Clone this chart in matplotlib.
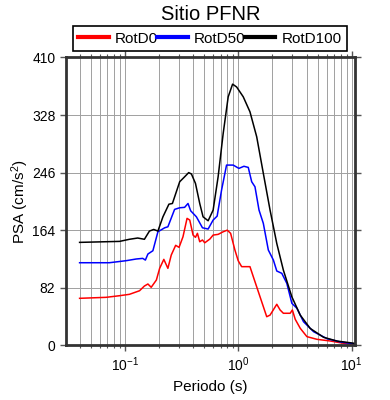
import matplotlib
matplotlib.use("Agg")
import matplotlib.pyplot as plt
from matplotlib.ticker import LogLocator, NullFormatter, FixedLocator

plt.rcParams['font.family'] = ['Liberation Sans', 'DejaVu Sans']
plt.rcParams['mathtext.fontset'] = 'custom'
plt.rcParams['mathtext.rm'] = 'Liberation Sans'
plt.rcParams['mathtext.it'] = 'Liberation Sans:italic'

# valores (periodo en s, PSA en cm/s2)
t_rotd100 = [0.04, 0.09, 0.11, 0.13, 0.149, 0.165, 0.18, 0.196, 0.217, 0.245, 0.263,
             0.305, 0.337, 0.366, 0.387, 0.42, 0.458, 0.49, 0.543, 0.601, 0.665, 0.737,
             0.816, 0.892, 0.968, 1.107, 1.269, 1.455, 1.664, 1.908, 2.187, 2.50, 2.97,
             3.52, 4.31, 5.65, 7.43, 10.6]
psa_rotd100 = [146.6, 148, 151, 152.8, 151, 162.7, 165, 162.7, 183, 201, 202,
               233, 240, 246, 244, 230.6, 202, 183, 177.4, 192.6, 240, 301.8,
               354, 372, 368, 354, 332.6, 297, 245, 192.6, 145, 107, 69,
               43, 24, 11.4, 6, 2.8]

t_rotd50 = [0.04, 0.0732, 0.1028, 0.126, 0.144, 0.152, 0.16, 0.177, 0.196, 0.225, 0.24,
            0.275, 0.305, 0.337, 0.361, 0.381, 0.428, 0.484, 0.543, 0.601, 0.652, 0.713,
            0.789, 0.903, 1.014, 1.123, 1.226, 1.314, 1.405, 1.525, 1.664, 1.842, 2.041,
            2.187, 2.421, 2.68, 2.97, 3.29, 3.76, 4.61, 6.06, 7.94, 10.6]
psa_rotd50 = [117.6, 117.6, 120.5, 122.9, 123.8, 121.4, 130, 134.7, 161.7, 167.4, 168.8,
              193.6, 195.9, 196.5, 202, 191.6, 183, 167.4, 165.6, 178.4, 184, 221,
              256.7, 256.7, 252, 255, 253.4, 233, 225.8, 192.6, 173.7, 135.7, 121.4,
              105.8, 102.5, 88.3, 59.8, 52.7, 33.6, 19.4, 9.4, 4.7, 1.9]

t_rotd0 = [0.04, 0.0684, 0.0898, 0.11, 0.135, 0.149, 0.16, 0.171, 0.19, 0.203, 0.221,
           0.24, 0.257, 0.281, 0.301, 0.326, 0.354, 0.374, 0.40, 0.42, 0.437, 0.458,
           0.484, 0.507, 0.562, 0.601, 0.665, 0.737, 0.80, 0.857, 0.935, 1.0, 1.072,
           1.269, 1.358, 1.556, 1.783, 1.908, 2.187, 2.339, 2.50, 2.87, 3.0, 3.18,
           3.52, 4.03, 4.94, 6.48, 8.50, 10.6]
psa_rotd0 = [66.9, 68.3, 70.6, 72.6, 77.7, 84.4, 87.3, 82.6, 93, 109.6, 122.4,
             109.6, 128.6, 142.4, 139.5, 154.6, 180.8, 178.4, 157, 153.8, 159.5, 147.5,
             150, 146, 151.3, 157, 158, 161.7, 164, 159.5, 135.7, 120.4, 112,
             112, 97.7, 69.2, 40.7, 43, 58.4, 50.3, 45.6, 45.6, 50.3, 37,
             24.2, 12.3, 8.5, 6.1, 2.8, 0.9]

y_ticks = [0, 82, 164, 246, 328, 410]

fig = plt.figure(figsize=(3.9, 4.0), dpi=100)
ax = fig.add_axes([0.169, 0.1368, 0.7425, 0.7195])

ax.plot(t_rotd0, psa_rotd0, color='red', lw=1.1, label='RotD0')
ax.plot(t_rotd50, psa_rotd50, color='blue', lw=1.1, label='RotD50')
ax.plot(t_rotd100, psa_rotd100, color='black', lw=1.1, label='RotD100')

ax.set_xscale('log')
ax.set_xlim(0.0303, 10.8)
ax.set_ylim(0, 410)
ax.yaxis.set_major_locator(FixedLocator(y_ticks))
ax.xaxis.set_minor_locator(LogLocator(base=10, subs=range(2, 10)))
ax.xaxis.set_minor_formatter(NullFormatter())

ax.grid(True, which='both', axis='x', color='#a0a0a0', lw=0.7)
ax.grid(True, which='major', axis='y', color='#a0a0a0', lw=0.7)
ax.set_axisbelow(True)

for s in ax.spines.values():
    s.set_linewidth(2)
    s.set_color('#333333')

ax.tick_params(which='both', direction='out', top=True, right=True,
               color='#555555', labelsize=10, pad=3)
ax.tick_params(which='major', length=4.5, width=1)
ax.tick_params(which='minor', length=2.5, width=0.8)

ax.set_xlabel('Periodo (s)', fontsize=11, labelpad=4)
ax.set_ylabel('PSA (cm/s$^2$)', fontsize=11, labelpad=1)
ax.set_title('Sitio PFNR', fontsize=14.5, pad=27)

leg = ax.legend(ncol=3, loc='lower left', bbox_to_anchor=(0.024, 1.0226, 0.946, 0.08),
                mode='expand', fontsize=11, handlelength=2.0, handletextpad=0.4,
                borderaxespad=0, borderpad=0.35, fancybox=False, framealpha=1)
leg.get_frame().set_edgecolor('black')
leg.get_frame().set_linewidth(1.2)
for h in leg.get_lines():
    h.set_linewidth(3)

fig.savefig('out.png', dpi=100)
